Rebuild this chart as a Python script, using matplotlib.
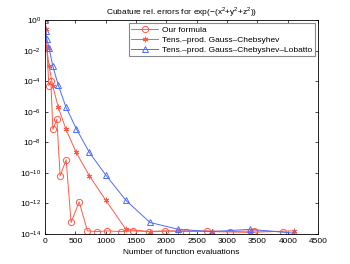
import numpy as np
import matplotlib
matplotlib.use("Agg")
import matplotlib.pyplot as plt

plt.rcParams['font.family'] = ['Liberation Sans', 'DejaVu Sans']
plt.rcParams['mathtext.fontset'] = 'custom'
plt.rcParams['mathtext.rm'] = 'Liberation Sans'

# Our formula
our_n = [1, 28, 61, 94, 127, 193, 247, 346, 428, 560, 697, 852, 1026, 1247,
         1455, 1718, 1977, 2323, 2660, 3048, 3443, 3916]
our_log = [0, -1.8, -4.3, -4.0, -7.15, -6.5, -10.2, -9.15, -13.25, -11.9, -13.8,
           -13.85, -13.8, -13.85, -13.8, -13.85, -13.8, -13.85, -13.8, -13.85, -13.8, -13.85]

# Tensor-product Gauss-Chebyshev
gc_n = [1, 8, 27, 64, 125, 216, 343, 512, 729, 1000, 1331, 1728, 2197, 2744, 3375, 4096]
gc_log = [0, -0.6, -1.8, -3.0, -4.3, -5.7, -7.15, -8.67, -10.2, -11.8, -13.7,
          -13.85, -13.8, -13.85, -13.9, -13.8]

# Tensor-product Gauss-Chebyshev-Lobatto
gcl_n = [1, 8, 27, 64, 125, 216, 343, 512, 729, 1000, 1331, 1728, 2197, 2744, 3375, 4096]
gcl_log = [0, -0.72, -1.25, -1.8, -3.0, -4.25, -5.7, -7.1, -8.67, -10.15, -11.8,
           -13.25, -13.7, -13.85, -13.7, -13.95]

red = '#ff5a48'
blue = '#4d6cff'

fig = plt.figure(figsize=(3.5, 2.64), dpi=100)
ax = fig.add_axes([0.129, 0.114, 0.78, 0.81])

ax.semilogy(our_n, 10.0 ** np.array(our_log), color=red, lw=0.7, marker='o',
            ms=4.5, mfc='none', mec=red, mew=0.7, label='Our formula')
ax.semilogy(gc_n, 10.0 ** np.array(gc_log), color=red, lw=0.7, marker=(6, 2, 0),
            ms=4, mec=red, mew=0.7, label='Tens.\u2013prod. Gauss\u2013Chebsyhev')
ax.semilogy(gcl_n, 10.0 ** np.array(gcl_log), color=blue, lw=0.7, marker='^',
            ms=4.5, mfc='none', mec=blue, mew=0.7,
            label='Tens.\u2013prod. Gauss\u2013Chebyshev\u2013Lobatto')

ax.set_xlim(0, 4500)
ax.set_ylim(1e-14, 1)
ax.set_xticks(np.arange(0, 4501, 500))
ax.set_yticks([10.0 ** k for k in range(-14, 1, 2)])
ax.minorticks_off()
ax.tick_params(direction='in', top=True, right=True, labelsize=6, length=2.5, width=0.5, pad=3)
for s in ax.spines.values():
    s.set_linewidth(0.6)

ax.set_title('Cubature rel. errors for exp(\u2212(x$^2$+y$^2$+z$^2$))', fontsize=6, pad=4)
ax.set_xlabel('Number of function evaluations', fontsize=6, labelpad=3)

leg = ax.legend(loc='upper right', fontsize=6, handlelength=3.2, borderaxespad=0.4,
                fancybox=False, framealpha=1, borderpad=0.3, labelspacing=0.25,
                handletextpad=0.5)
leg.get_frame().set_edgecolor('#888888')
leg.get_frame().set_linewidth(0.8)

fig.savefig('out.png', dpi=100)
